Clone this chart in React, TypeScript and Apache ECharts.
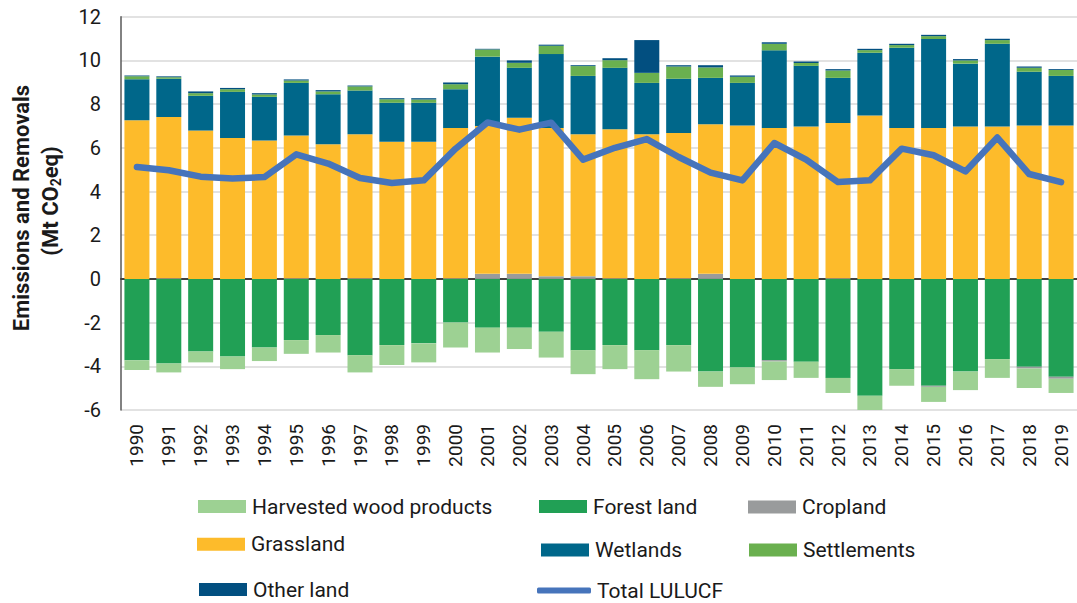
import React, { useEffect, useRef } from "react";
import * as echarts from "echarts";

const years = [
  "1990", "1991", "1992", "1993", "1994", "1995", "1996", "1997", "1998", "1999",
  "2000", "2001", "2002", "2003", "2004", "2005", "2006", "2007", "2008", "2009",
  "2010", "2011", "2012", "2013", "2014", "2015", "2016", "2017", "2018", "2019",
];

const forestLand = [
  -3.72, -3.87, -3.32, -3.55, -3.14, -2.8, -2.57, -3.49, -3.03, -2.95,
  -2.0, -2.23, -2.23, -2.42, -3.26, -3.03, -3.26, -3.03, -4.24, -4.05,
  -3.72, -3.79, -4.53, -5.35, -4.13, -4.89, -4.24, -3.67, -4.02, -4.48,
];

const cropland = [
  0, 0.03, 0, 0, 0, 0.03, 0, 0.03, 0, 0,
  0.03, 0.23, 0.23, 0.12, 0.12, 0.03, 0, 0.03, 0.23, 0,
  -0.06, 0, 0.03, 0, 0, -0.05, 0, 0, -0.08, -0.09,
];

const grassland = [
  7.26, 7.38, 6.79, 6.45, 6.33, 6.53, 6.16, 6.59, 6.28, 6.28,
  6.88, 6.77, 7.14, 6.79, 6.5, 6.82, 6.62, 6.65, 6.85, 7.02,
  6.91, 6.97, 7.11, 7.48, 6.91, 6.91, 6.97, 6.97, 7.02, 7.02,
];

const wetlands = [
  1.88, 1.75, 1.59, 2.11, 2.0, 2.41, 2.29, 2.0, 1.78, 1.78,
  1.77, 3.17, 2.29, 3.38, 2.67, 2.81, 2.35, 2.48, 2.12, 1.95,
  3.55, 2.78, 2.06, 2.87, 3.67, 4.07, 2.88, 3.79, 2.46, 2.27,
];

const settlements = [
  0.13, 0.07, 0.12, 0.12, 0.11, 0.11, 0.13, 0.19, 0.16, 0.15,
  0.23, 0.33, 0.23, 0.38, 0.45, 0.35, 0.46, 0.56, 0.48, 0.28,
  0.3, 0.13, 0.34, 0.12, 0.12, 0.13, 0.15, 0.17, 0.18, 0.27,
];

const otherLand = [
  0.04, 0.04, 0.08, 0.06, 0.06, 0.05, 0.06, 0.04, 0.05, 0.06,
  0.08, 0.03, 0.11, 0.05, 0.04, 0.09, 1.5, 0.06, 0.1, 0.06,
  0.07, 0.07, 0.06, 0.06, 0.06, 0.06, 0.06, 0.06, 0.06, 0.04,
];

const harvestedWood = [
  -0.45, -0.41, -0.5, -0.58, -0.62, -0.63, -0.8, -0.79, -0.91, -0.87,
  -1.14, -1.14, -0.98, -1.18, -1.1, -1.1, -1.33, -1.21, -0.7, -0.77,
  -0.85, -0.74, -0.69, -0.69, -0.76, -0.69, -0.85, -0.86, -0.89, -0.65,
];

const totalLulucf = [
  5.12, 4.97, 4.68, 4.6, 4.66, 5.7, 5.28, 4.62, 4.39, 4.51,
  5.96, 7.16, 6.83, 7.15, 5.46, 6.0, 6.4, 5.58, 4.86, 4.51,
  6.22, 5.46, 4.43, 4.51, 5.96, 5.66, 4.92, 6.47, 4.8, 4.43,
];

const FONT = "Roboto";

const COLORS = {
  hwp: "#9dd193",
  forest: "#21a055",
  crop: "#999b9c",
  grass: "#fdbb2b",
  wet: "#00678a",
  settl: "#6ab04f",
  other: "#024f80",
  total: "#4674bb",
};

function legendAt(name: string, left: number, cy: number, extra: any = {}) {
  return {
    show: true,
    data: [name],
    left,
    top: cy - 9,
    orient: "horizontal",
    selectedMode: false,
    itemWidth: 48,
    itemHeight: 13,
    itemGap: 0,
    padding: 0,
    icon: "rect",
    textStyle: { fontFamily: FONT, fontSize: 21, color: "#1a1a1a", lineHeight: 18, padding: [0, 0, 0, 1] },
    ...extra,
  };
}

export default function App() {
  const ref = useRef<HTMLDivElement>(null);

  useEffect(() => {
    document.body.style.margin = "0";
    if (!ref.current) return;
    const chart = echarts.init(ref.current, undefined, { renderer: "svg" });

    const barBase = {
      type: "bar",
      stack: "total",
      barWidth: 25,
      xAxisIndex: 0,
      yAxisIndex: 0,
    };

    const option: any = {
      animation: false,
      backgroundColor: "#ffffff",
      grid: { left: 121, right: 0, top: 16.7, bottom: 193, containLabel: false },
      xAxis: [
        {
          type: "category",
          data: years,
          position: "bottom",
          axisLine: { show: false, onZero: false },
          axisTick: { show: false },
          splitLine: { show: false },
          axisLabel: {
            rotate: 90,
            margin: 14,
            fontFamily: FONT,
            fontSize: 19,
            color: "#1a1a1a",
            interval: 0,
          },
        },
        {
          type: "category",
          data: years,
          position: "bottom",
          axisLine: { show: true, onZero: true, lineStyle: { color: "#404040", width: 2 } },
          axisTick: { show: false },
          axisLabel: { show: false },
          splitLine: { show: false },
        },
      ],
      yAxis: {
        type: "value",
        min: -6,
        max: 12,
        interval: 2,
        axisLine: { show: true, lineStyle: { color: "#595959", width: 1.5 } },
        axisTick: { show: false },
        splitLine: { show: true, lineStyle: { color: "#d9d9d9", width: 1.5 } },
        axisLabel: {
          margin: 20,
          fontFamily: FONT,
          fontSize: 20,
          color: "#1a1a1a",
        },
      },
      legend: [
        legendAt("Harvested wood products", 198, 505),
        legendAt("Forest land", 539, 505),
        legendAt("Cropland", 748, 505.5),
        legendAt("Grassland", 197, 542.7),
        legendAt("Wetlands", 541, 548.5),
        legendAt("Settlements", 749, 548.5),
        legendAt("Other land", 199, 588),
        legendAt("Total LULUCF", 537, 589, { icon: "roundRect", itemWidth: 54, itemHeight: 6 }),
      ],
      graphic: [
        {
          type: "text",
          x: 21,
          y: 208,
          rotation: Math.PI / 2,
          style: {
            text: "Emissions and Removals",
            fontFamily: FONT,
            fontSize: 22,
            fontWeight: "bold",
            fill: "#1a1a1a",
            textAlign: "center",
            textVerticalAlign: "middle",
          },
        },
        {
          type: "text",
          x: 50,
          y: 201,
          rotation: Math.PI / 2,
          style: {
            text: "(Mt CO{sub|2}eq)",
            fontFamily: FONT,
            fontSize: 22,
            fontWeight: "bold",
            fill: "#1a1a1a",
            textAlign: "center",
            textVerticalAlign: "middle",
            lineHeight: 25,
            rich: {
              sub: {
                fontFamily: FONT,
                fontSize: 14,
                fontWeight: "bold",
                fill: "#1a1a1a",
                lineHeight: 14,
                verticalAlign: "bottom",
              },
            },
          },
        },
      ],
      series: [
        { ...barBase, name: "Forest land", data: forestLand, itemStyle: { color: COLORS.forest } },
        { ...barBase, name: "Cropland", data: cropland, itemStyle: { color: COLORS.crop } },
        { ...barBase, name: "Grassland", data: grassland, itemStyle: { color: COLORS.grass } },
        { ...barBase, name: "Wetlands", data: wetlands, itemStyle: { color: COLORS.wet } },
        { ...barBase, name: "Settlements", data: settlements, itemStyle: { color: COLORS.settl } },
        { ...barBase, name: "Other land", data: otherLand, itemStyle: { color: COLORS.other } },
        { ...barBase, name: "Harvested wood products", data: harvestedWood, itemStyle: { color: COLORS.hwp } },
        {
          type: "line",
          name: "Total LULUCF",
          data: totalLulucf,
          xAxisIndex: 0,
          yAxisIndex: 0,
          symbol: "none",
          z: 10,
          itemStyle: { color: COLORS.total },
          lineStyle: { color: COLORS.total, width: 6.5, join: "round", cap: "round" },
        },
      ],
    };

    chart.setOption(option);
    return () => chart.dispose();
  }, []);

  return <div ref={ref} style={{ width: 1077, height: 603 }} />;
}
